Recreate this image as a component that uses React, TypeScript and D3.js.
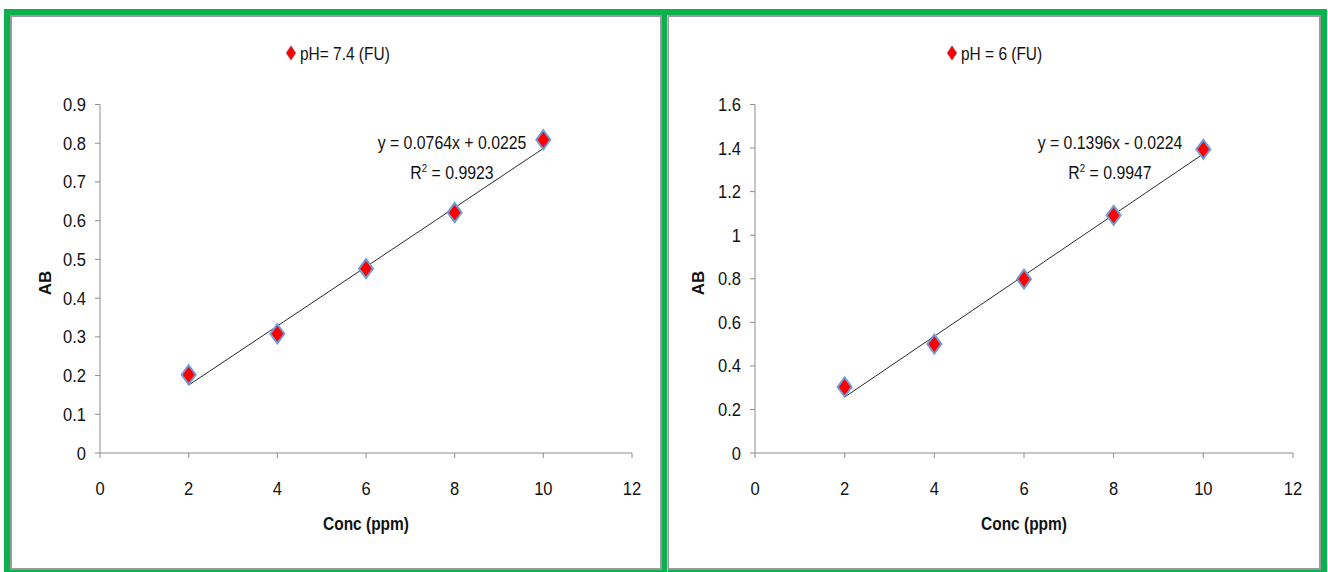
import React from "react";
import * as d3 from "d3";

// Calibration data: concentration (ppm) vs absorbance
const concentrations = [2, 4, 6, 8, 10];
const absorbancePH74 = [0.202, 0.308, 0.476, 0.621, 0.809];
const absorbancePH6 = [0.303, 0.5, 0.798, 1.091, 1.394];

const xTicks = [0, 2, 4, 6, 8, 10, 12];
const yTicksPH74 = [0, 0.1, 0.2, 0.3, 0.4, 0.5, 0.6, 0.7, 0.8, 0.9];
const yTicksPH6 = [0, 0.2, 0.4, 0.6, 0.8, 1, 1.2, 1.4, 1.6];

const seriesNames = ["pH= 7.4 (FU)", "pH = 6 (FU)"];
const slopes = [0.0764, 0.1396];
const intercepts = [0.0225, -0.0224];
const rSquared = ["0.9923", "0.9947"];

const FONT = "'Liberation Sans', Arial, sans-serif";
const AXIS = "#8c8c8c";
const INK = "#111";

// Horizontally condensed text
function T({ x, y, sx = 0.88, anchor = "start", size = 18, weight = "normal", children }: any) {
  return (
    <g transform={`translate(${x},${y}) scale(${sx},1)`}>
      <text x={0} y={0} textAnchor={anchor} fontSize={size} fontWeight={weight} fill={INK}>
        {children}
      </text>
    </g>
  );
}

type PanelProps = {
  x0: number;
  x1: number;
  yMax: number;
  yTicks: number[];
  values: number[];
  name: string;
  slope: number;
  intercept: number;
  r2: string;
  legendX: number;
  eqX: number;
  titleYX: number;
};

function Diamond({ cx, cy, w, h, fill, stroke, sw }: any) {
  const p = `M${cx},${cy - h / 2}L${cx + w / 2},${cy}L${cx},${cy + h / 2}L${cx - w / 2},${cy}Z`;
  return <path d={p} fill={fill} stroke={stroke} strokeWidth={sw} strokeLinejoin="miter" />;
}

function Panel(p: PanelProps) {
  const x = d3.scaleLinear().domain([0, 12]).range([p.x0, p.x1]);
  const y = d3.scaleLinear().domain([0, p.yMax]).range([453, 104.5]);
  const fmt = (v: number) => (Number.isInteger(v) ? String(v) : String(+v.toFixed(1)));
  const eqSign = p.intercept < 0 ? "-" : "+";
  const eq = `y = ${p.slope}x ${eqSign} ${Math.abs(p.intercept).toFixed(4)}`;
  const lx0 = concentrations[0];
  const lx1 = concentrations[concentrations.length - 1];
  return (
    <g fontFamily={FONT}>
      {/* legend */}
      <Diamond cx={p.legendX} cy={53} w={10} h={15} fill="#ff0000" stroke="#8a9fd0" sw={0.6} />
      <T x={p.legendX + 9} y={60} sx={0.86}>{p.name}</T>

      {/* axes */}
      <line x1={x(0)} x2={x(0)} y1={y(0)} y2={y(p.yMax)} stroke={AXIS} strokeWidth={1} />
      <line x1={x(0)} x2={x(12)} y1={y(0)} y2={y(0)} stroke={AXIS} strokeWidth={1} />
      {p.yTicks.map((t) => (
        <g key={"y" + t}>
          <line x1={x(0) - 5} x2={x(0)} y1={y(t)} y2={y(t)} stroke={AXIS} />
          <T x={x(0) - 14} y={y(t) + 6.5} anchor="end" sx={0.92}>{fmt(t)}</T>
        </g>
      ))}
      {xTicks.map((t) => (
        <g key={"x" + t}>
          <line x1={x(t)} x2={x(t)} y1={y(0)} y2={y(0) + 5} stroke={AXIS} />
          <T x={x(t)} y={495} anchor="middle" sx={0.92}>{t}</T>
        </g>
      ))}

      {/* axis titles */}
      <T x={(x(0) + x(12)) / 2} y={530} anchor="middle" weight="bold" sx={0.86}>
        Conc (ppm)
      </T>
      <text
        transform={`translate(${p.titleYX},283) rotate(-90)`}
        textAnchor="middle"
        fontSize={17}
        fontWeight="bold"
        fill={INK}
      >
        AB
      </text>

      {/* linear trendline */}
      <line
        x1={x(lx0)}
        y1={y(p.slope * lx0 + p.intercept)}
        x2={x(lx1)}
        y2={y(p.slope * lx1 + p.intercept)}
        stroke="#2b2b2b"
        strokeWidth={1}
      />

      {/* data points */}
      {concentrations.map((c, i) => (
        <Diamond key={c} cx={x(c)} cy={y(p.values[i])} w={14} h={19} fill="#ff0000" stroke="#6f9bd6" sw={2} />
      ))}

      {/* equation */}
      <T x={p.eqX} y={149} anchor="middle">{eq}</T>
      <T x={p.eqX} y={179} anchor="middle">
        R<tspan dy={-7} fontSize={11}>2</tspan>
        <tspan dy={7}> = {p.r2}</tspan>
      </T>
    </g>
  );
}

export default function App() {
  return (
    <div style={{ position: "fixed", left: 0, top: 0 }}>
      <svg width={1328} height={572} style={{ display: "block", background: "#fff" }}>
        {/* panel frames */}
        <rect x={11} y={16} width={650} height={553} fill="#fff" stroke="#9a9a9a" strokeWidth={2} />
        <rect x={668} y={16} width={652} height={553} fill="#fff" stroke="#9a9a9a" strokeWidth={2} />
        <rect x={7} y={12} width={1317} height={561} fill="none" stroke="#0cb04c" strokeWidth={6} />
        <line x1={664.5} x2={664.5} y1={9} y2={572} stroke="#0cb04c" strokeWidth={5} />
        <line x1={667.5} x2={667.5} y1={15} y2={572} stroke="#8fe0a8" strokeWidth={1} />

        <Panel
          x0={100}
          x1={632}
          yMax={0.9}
          yTicks={yTicksPH74}
          values={absorbancePH74}
          name={seriesNames[0]}
          slope={slopes[0]}
          intercept={intercepts[0]}
          r2={rSquared[0]}
          legendX={291}
          eqX={452}
          titleYX={51}
        />
        <Panel
          x0={755}
          x1={1293}
          yMax={1.6}
          yTicks={yTicksPH6}
          values={absorbancePH6}
          name={seriesNames[1]}
          slope={slopes[1]}
          intercept={intercepts[1]}
          r2={rSquared[1]}
          legendX={952}
          eqX={1110}
          titleYX={704}
        />
      </svg>
    </div>
  );
}
